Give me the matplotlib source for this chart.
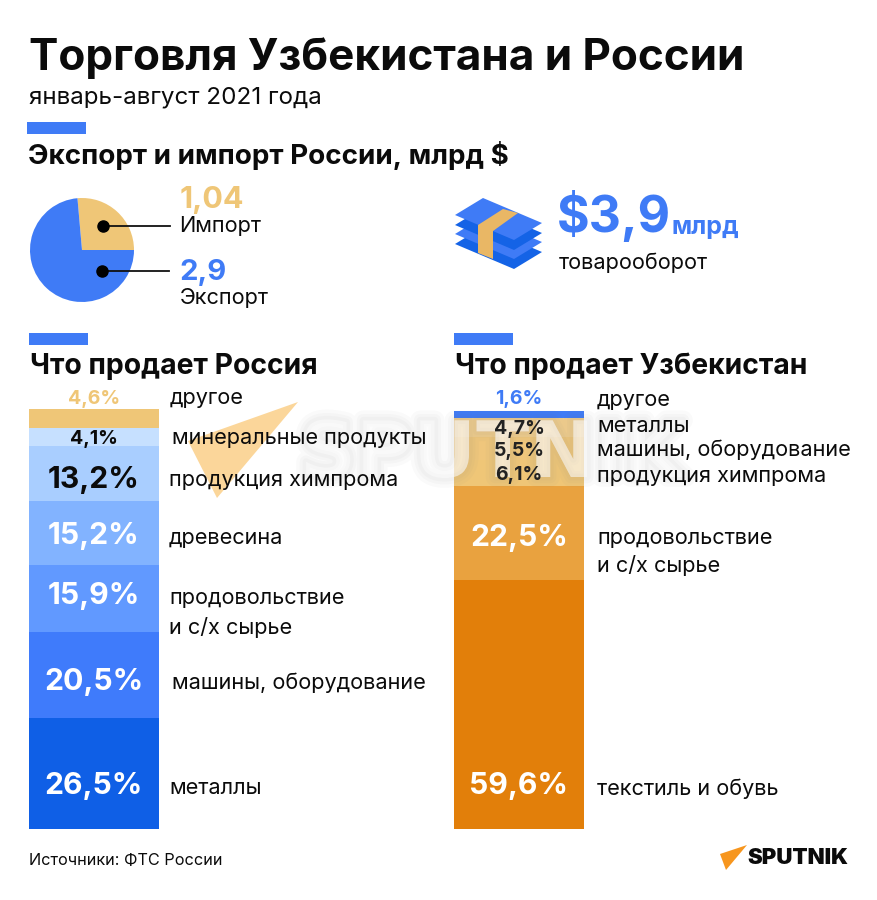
# -*- coding: utf-8 -*-
import matplotlib
matplotlib.use('Agg')
import matplotlib.pyplot as plt
import matplotlib.patheffects as pe
from matplotlib.patches import Polygon, Rectangle

plt.rcParams['font.family'] = ['Inter', 'DejaVu Sans']

W, H = 878, 900

# данные
pie_names = ['Импорт', 'Экспорт']
pie_values = [1.04, 2.9]
pie_labels = ['1,04', '2,9']

ru_names = ['другое', 'минеральные продукты', 'продукция химпрома', 'древесина',
            'продовольствие\nи с/х сырье', 'машины, оборудование', 'металлы']
ru_values = [4.6, 4.1, 13.2, 15.2, 15.9, 20.5, 26.5]
ru_colors = ['#EFC677', '#C6E0FF', '#A9CEFF', '#82B3FF', '#6199FF', '#3F7BFB', '#0F5FE6']

uz_names = ['другое', 'металлы', 'машины, оборудование', 'продукция химпрома',
            'продовольствие\nи с/х сырье', 'текстиль и обувь']
uz_values = [1.6, 4.7, 5.5, 6.1, 22.5, 59.6]
uz_colors = ['#3F7BF6', '#F0CD8C', '#EFC67C', '#EFC677', '#E9A23F', '#E27F0A']

BLUE = '#3F7BF6'
SAND = '#EFC677'
INK = '#0B0B0B'
LABEL = 15.6


def axes_px(fig, x0, y0, x1, y1):
    # прямоугольник в пикселях картинки, y вниз
    return fig.add_axes([x0 / W, 1 - y1 / H, (x1 - x0) / W, (y1 - y0) / H])


def stacked(fig, x0, y0, x1, y1, values, colors):
    ax = axes_px(fig, x0, y0, x1, y1)
    ax.set_xlim(0, 1)
    ax.set_ylim(sum(values), 0)
    ax.axis('off')
    top = 0
    for v, c in zip(values, colors):
        ax.bar(0.5, v, width=1, bottom=top, color=c, linewidth=0)
        top += v
    return ax


fig = plt.figure(figsize=(W / 100, H / 100), dpi=100, facecolor='white')

# pie
pie_ax = axes_px(fig, 30, 198, 134, 302)
pie_ax.pie(pie_values, colors=[SAND, BLUE], startangle=0, radius=1,
           wedgeprops={'linewidth': 0})
pie_ax.set_xlim(-1, 1)
pie_ax.set_ylim(-1, 1)

# столбики
ru_ax = stacked(fig, 29, 409, 159, 829, ru_values, ru_colors)
uz_ax = stacked(fig, 454, 411, 584, 829, uz_values, uz_colors)

# подписи и оформление в пикселях
ov = fig.add_axes([0, 0, 1, 1], zorder=5)
ov.set_xlim(0, W)
ov.set_ylim(H, 0)
ov.axis('off')
ov.patch.set_alpha(0)


def txt(x, y, s, size, color=INK, weight='normal', ha='left', **kw):
    ov.text(x, y + 1.5, s, fontsize=size, color=color, fontweight=weight, ha=ha, va='center',
            zorder=6, **kw)


txt(29, 57, 'Торговля Узбекистана и России', 31.7, weight='bold')
txt(29, 96, 'январь-август 2021 года', 17.4)

for x0, x1, y0, y1 in [(27, 86, 122, 134), (29, 88, 333, 345), (454, 513, 333, 345)]:
    ov.add_patch(Rectangle((x0, y0), x1 - x0, y1 - y0, color=BLUE, lw=0))

txt(28, 154, 'Экспорт и импорт России, млрд $', 20, weight='bold')
txt(30, 365, 'Что продает Россия', 20.4, weight='bold')
txt(455, 365, 'Что продает Узбекистан', 20.4, weight='bold')

# выноски круговой
for (xd, yd, x_end) in [(103, 226, 170), (102, 271, 169)]:
    ov.plot([xd, x_end], [yd, yd], color='#111111', lw=1.3, zorder=3)
    ov.plot([xd], [yd], 'o', color='black', ms=8, zorder=4)
txt(180, 199, pie_labels[0], 22, color=SAND, weight='bold')
txt(179, 225, pie_names[0], LABEL)
txt(179, 271, pie_labels[1], 21, color=BLUE, weight='bold')
txt(180, 296, pie_names[1], LABEL)

# пачка денег
sheet = [(455, 215), (483, 198), (542, 223), (514, 240)]
for dy, c in [(29, '#1463E6'), (19, BLUE), (10, '#1463E6'), (0, BLUE)]:
    ov.add_patch(Polygon([(x, y + dy) for x, y in sheet], color=c, lw=0))
ov.add_patch(Polygon([(478, 225), (503, 209), (518, 213), (493, 231), (493, 259), (478, 253)],
                     color='#E9B765', lw=0))

txt(557, 214, '$3,9', 36, color=BLUE, weight='bold')
txt(672, 226, 'млрд', 18, color=BLUE, weight='bold')
txt(559, 261, 'товарооборот', LABEL)

# подписи столбиков
ru_text_y = [396, 437, 479, 536, None, 681, 787]
ru_text_x = [170, 172, 169, 169, 169, 172, 169]
for name, y, x in zip(ru_names, ru_text_y, ru_text_x):
    if y is None:
        txt(x, 597, name.split('\n')[0], LABEL)
        txt(x, 626, name.split('\n')[1], LABEL)
    else:
        txt(x, y, name, LABEL)

uz_text_y = [398, 424, 448, 475, None, 787]
for name, y in zip(uz_names, uz_text_y):
    if y is None:
        txt(597, 536, name.split('\n')[0], LABEL)
        txt(597, 564, name.split('\n')[1], LABEL)
    else:
        txt(597, y, name, LABEL)

ru_pct = [('4,6%', 398, 14, SAND), ('4,1%', 437, 14, INK), ('13,2%', 478, 21.7, INK),
          ('15,2%', 534, 21.7, 'white'), ('15,9%', 595, 21.7, 'white'), ('20,5%', 680, 21.7, 'white'),
          ('26,5%', 785, 21.7, 'white')]
for s, y, size, c in ru_pct:
    txt(94, y, s, size, color=c, weight='bold', ha='center')

uz_pct = [('1,6%', 398, 14, BLUE), ('4,7%', 428, 14, '#222222'), ('5,5%', 449, 14, '#222222'),
          ('6,1%', 474, 14, '#222222'), ('22,5%', 536, 21.7, 'white'), ('59,6%', 785, 21.7, 'white')]
for s, y, size, c in uz_pct:
    txt(519, y, s, size, color=c, weight='bold', ha='center')

# водяной знак
ov.add_patch(Polygon([(298, 402), (188, 441), (217, 498)], color='#F7A520', alpha=0.45, lw=0, zorder=2))
shadow = [pe.withStroke(linewidth=w, foreground='#777777', alpha=0.035) for w in (14, 9, 5)]
ov.text(300, 477, 'SPUTNIK', fontsize=56, color='white', alpha=0.25, va='baseline', ha='left', zorder=2,
        family='DejaVu Sans', fontweight='bold', path_effects=shadow)

txt(29, 859, 'Источники: ФТС России', 11.7)

# логотип
ov.add_patch(Polygon([(747, 845), (720, 854), (726, 870)], color='#F7961E', lw=0))
txt(747, 857, 'SPUTNIK', 16, weight='black')

fig.savefig('out.png', dpi=100)
